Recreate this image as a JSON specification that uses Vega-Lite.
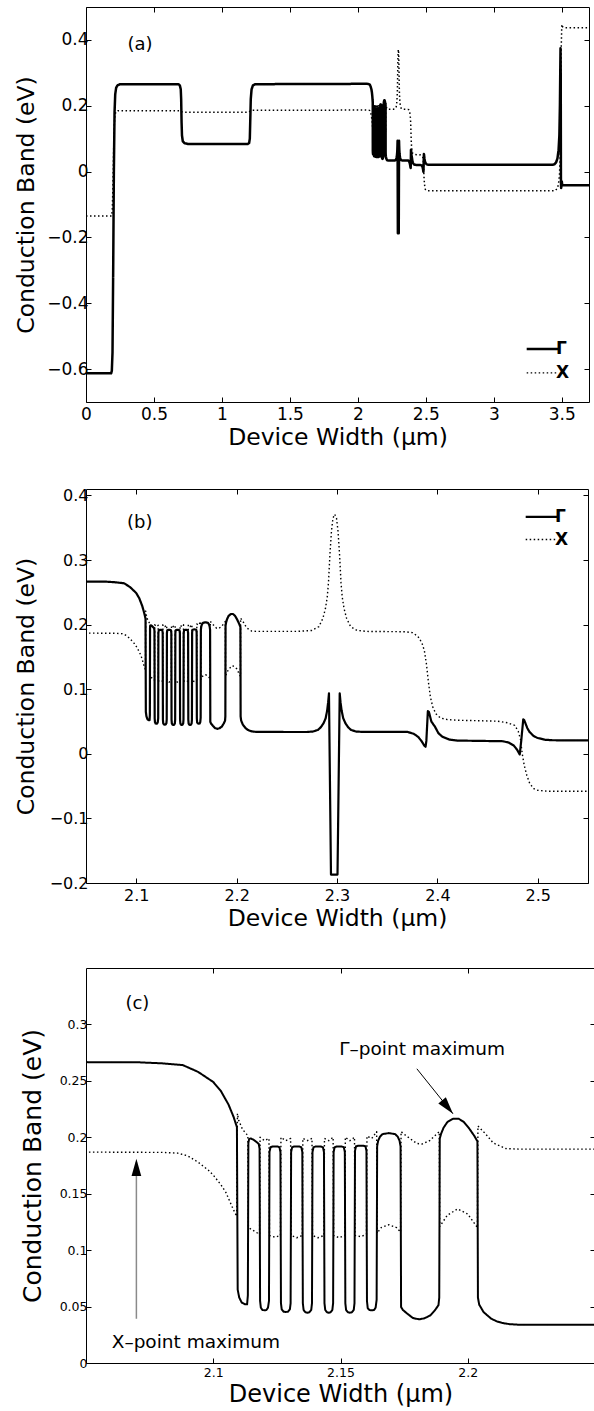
{
  "$schema": "https://vega.github.io/schema/vega-lite/v6.json",
  "padding": {"top": 6, "left": 14, "right": 0, "bottom": 0},
  "spacing": 37,
  "align": "none",
  "config": {
    "font": "DejaVu Sans",
    "view": {"stroke": "black", "strokeWidth": 1},
    "axis": {"domain": false, "grid": false, "ticks": true, "tickSize": -5, "tickColor": "black", "tickWidth": 1, "labelColor": "black", "titleColor": "black", "titleFontWeight": "normal", "labelFlush": false, "labelOverlap": false, "labelFont": "DejaVu Sans", "titleFont": "DejaVu Sans", "format": "~g"},
    "legend": {"title": null, "orient": "none", "padding": 0, "symbolType": "stroke", "symbolSize": 1000, "symbolStrokeColor": "black", "symbolStrokeWidth": 2, "labelFontSize": 17, "labelFont": "DejaVu Sans", "labelFontWeight": "bold", "labelColor": "black", "labelOffset": 5, "rowPadding": 4.6}
  },
  "resolve": {"scale": {"strokeDash": "independent"}, "legend": {"strokeDash": "independent"}},
  "datasets": {
    "band": [
      {"s":"Γ","x":0,"y":-0.613},{"s":"Γ","x":0.185,"y":-0.613},{"s":"Γ","x":0.19,"y":-0.605},{"s":"Γ","x":0.195,"y":-0.55},{"s":"Γ","x":0.2,"y":-0.3},{"s":"Γ","x":0.205,"y":0.0},{"s":"Γ","x":0.21,"y":0.18},{"s":"Γ","x":0.215,"y":0.235},{"s":"Γ","x":0.222,"y":0.255},{"s":"Γ","x":0.232,"y":0.262},{"s":"Γ","x":0.25,"y":0.2655},
      {"s":"Γ","x":0.68,"y":0.2655},{"s":"Γ","x":0.69,"y":0.262},{"s":"Γ","x":0.697,"y":0.25},{"s":"Γ","x":0.7,"y":0.22},{"s":"Γ","x":0.703,"y":0.15},{"s":"Γ","x":0.706,"y":0.11},{"s":"Γ","x":0.712,"y":0.092},{"s":"Γ","x":0.725,"y":0.086},{"s":"Γ","x":0.75,"y":0.084},
      {"s":"Γ","x":1.19,"y":0.084},{"s":"Γ","x":1.2,"y":0.087},{"s":"Γ","x":1.205,"y":0.1},{"s":"Γ","x":1.208,"y":0.15},{"s":"Γ","x":1.212,"y":0.22},{"s":"Γ","x":1.218,"y":0.25},{"s":"Γ","x":1.228,"y":0.262},{"s":"Γ","x":1.245,"y":0.2655},
      {"s":"Γ","x":2.05,"y":0.2666},{"s":"Γ","x":2.07,"y":0.2665},{"s":"Γ","x":2.08,"y":0.2655},{"s":"Γ","x":2.088,"y":0.264},{"s":"Γ","x":2.094,"y":0.258},{"s":"Γ","x":2.1,"y":0.249},{"s":"Γ","x":2.103,"y":0.241},{"s":"Γ","x":2.106,"y":0.229},{"s":"Γ","x":2.108,"y":0.218},{"s":"Γ","x":2.1093,"y":0.209},
      {"s":"Γ","x":2.1096,"y":0.065},{"s":"Γ","x":2.1102,"y":0.058},{"s":"Γ","x":2.1112,"y":0.0535},{"s":"Γ","x":2.1125,"y":0.052},{"s":"Γ","x":2.1133,"y":0.052},{"s":"Γ","x":2.1136,"y":0.06},
      {"s":"Γ","x":2.1138,"y":0.195},{"s":"Γ","x":2.1141,"y":0.1985},{"s":"Γ","x":2.1148,"y":0.199},{"s":"Γ","x":2.116,"y":0.1975},{"s":"Γ","x":2.1172,"y":0.1955},{"s":"Γ","x":2.1179,"y":0.194},{"s":"Γ","x":2.1182,"y":0.19},
      {"s":"Γ","x":2.1184,"y":0.055},{"s":"Γ","x":2.1187,"y":0.049},{"s":"Γ","x":2.1193,"y":0.047},{"s":"Γ","x":2.1201,"y":0.0467},{"s":"Γ","x":2.1209,"y":0.047},{"s":"Γ","x":2.1215,"y":0.049},{"s":"Γ","x":2.1219,"y":0.055},
      {"s":"Γ","x":2.1221,"y":0.187},{"s":"Γ","x":2.1225,"y":0.1912},{"s":"Γ","x":2.1233,"y":0.1918},{"s":"Γ","x":2.1243,"y":0.1919},{"s":"Γ","x":2.1253,"y":0.1918},{"s":"Γ","x":2.126,"y":0.1912},{"s":"Γ","x":2.1264,"y":0.187},
      {"s":"Γ","x":2.1266,"y":0.053},{"s":"Γ","x":2.1269,"y":0.0475},{"s":"Γ","x":2.1276,"y":0.0455},{"s":"Γ","x":2.1285,"y":0.0452},{"s":"Γ","x":2.1294,"y":0.0455},{"s":"Γ","x":2.1301,"y":0.0475},{"s":"Γ","x":2.1304,"y":0.053},
      {"s":"Γ","x":2.1306,"y":0.187},{"s":"Γ","x":2.131,"y":0.1912},{"s":"Γ","x":2.1318,"y":0.1918},{"s":"Γ","x":2.1328,"y":0.1919},{"s":"Γ","x":2.1338,"y":0.1918},{"s":"Γ","x":2.1346,"y":0.1912},{"s":"Γ","x":2.135,"y":0.187},
      {"s":"Γ","x":2.1352,"y":0.053},{"s":"Γ","x":2.1355,"y":0.047},{"s":"Γ","x":2.1362,"y":0.045},{"s":"Γ","x":2.137,"y":0.0446},{"s":"Γ","x":2.1378,"y":0.045},{"s":"Γ","x":2.1385,"y":0.047},{"s":"Γ","x":2.1388,"y":0.053},
      {"s":"Γ","x":2.139,"y":0.187},{"s":"Γ","x":2.1394,"y":0.1912},{"s":"Γ","x":2.1402,"y":0.1918},{"s":"Γ","x":2.1412,"y":0.1919},{"s":"Γ","x":2.1422,"y":0.1918},{"s":"Γ","x":2.1431,"y":0.1912},{"s":"Γ","x":2.1435,"y":0.187},
      {"s":"Γ","x":2.1437,"y":0.053},{"s":"Γ","x":2.144,"y":0.047},{"s":"Γ","x":2.1447,"y":0.045},{"s":"Γ","x":2.1454,"y":0.0446},{"s":"Γ","x":2.1461,"y":0.045},{"s":"Γ","x":2.1468,"y":0.047},{"s":"Γ","x":2.1471,"y":0.053},
      {"s":"Γ","x":2.1473,"y":0.187},{"s":"Γ","x":2.1477,"y":0.1912},{"s":"Γ","x":2.1485,"y":0.1918},{"s":"Γ","x":2.1495,"y":0.1919},{"s":"Γ","x":2.1505,"y":0.1918},{"s":"Γ","x":2.1513,"y":0.1912},{"s":"Γ","x":2.1517,"y":0.187},
      {"s":"Γ","x":2.1519,"y":0.053},{"s":"Γ","x":2.1522,"y":0.047},{"s":"Γ","x":2.1529,"y":0.045},{"s":"Γ","x":2.1537,"y":0.0446},{"s":"Γ","x":2.1545,"y":0.045},{"s":"Γ","x":2.1552,"y":0.047},{"s":"Γ","x":2.1555,"y":0.053},
      {"s":"Γ","x":2.1557,"y":0.188},{"s":"Γ","x":2.1561,"y":0.192},{"s":"Γ","x":2.1569,"y":0.1925},{"s":"Γ","x":2.158,"y":0.1926},{"s":"Γ","x":2.159,"y":0.1925},{"s":"Γ","x":2.1598,"y":0.192},{"s":"Γ","x":2.1602,"y":0.188},
      {"s":"Γ","x":2.1604,"y":0.055},{"s":"Γ","x":2.1607,"y":0.0485},{"s":"Γ","x":2.1614,"y":0.047},{"s":"Γ","x":2.1623,"y":0.0467},{"s":"Γ","x":2.1632,"y":0.047},{"s":"Γ","x":2.1638,"y":0.049},{"s":"Γ","x":2.1642,"y":0.056},
      {"s":"Γ","x":2.1644,"y":0.192},{"s":"Γ","x":2.1648,"y":0.197},{"s":"Γ","x":2.1655,"y":0.2005},{"s":"Γ","x":2.1665,"y":0.2028},{"s":"Γ","x":2.169,"y":0.2037},{"s":"Γ","x":2.1715,"y":0.2028},{"s":"Γ","x":2.1725,"y":0.2005},{"s":"Γ","x":2.1732,"y":0.197},{"s":"Γ","x":2.1736,"y":0.192},
      {"s":"Γ","x":2.1738,"y":0.0496},{"s":"Γ","x":2.1745,"y":0.047},{"s":"Γ","x":2.1763,"y":0.0436},{"s":"Γ","x":2.1785,"y":0.0398},{"s":"Γ","x":2.1809,"y":0.0387},{"s":"Γ","x":2.183,"y":0.0396},{"s":"Γ","x":2.1853,"y":0.0422},{"s":"Γ","x":2.1872,"y":0.047},{"s":"Γ","x":2.1885,"y":0.0513},{"s":"Γ","x":2.1888,"y":0.058},
      {"s":"Γ","x":2.189,"y":0.1987},{"s":"Γ","x":2.1895,"y":0.203},{"s":"Γ","x":2.1905,"y":0.2085},{"s":"Γ","x":2.192,"y":0.2135},{"s":"Γ","x":2.1942,"y":0.2164},{"s":"Γ","x":2.1964,"y":0.2165},{"s":"Γ","x":2.1985,"y":0.2135},{"s":"Γ","x":2.2005,"y":0.208},{"s":"Γ","x":2.2025,"y":0.2015},{"s":"Γ","x":2.2038,"y":0.1964},
      {"s":"Γ","x":2.204,"y":0.058},{"s":"Γ","x":2.2045,"y":0.0517},{"s":"Γ","x":2.2062,"y":0.0452},{"s":"Γ","x":2.2078,"y":0.042},{"s":"Γ","x":2.2092,"y":0.0393},{"s":"Γ","x":2.2115,"y":0.0368},{"s":"Γ","x":2.2137,"y":0.0354},{"s":"Γ","x":2.2165,"y":0.0344},{"s":"Γ","x":2.2196,"y":0.034},{"s":"Γ","x":2.25,"y":0.0338},
      {"s":"Γ","x":2.27,"y":0.0338},{"s":"Γ","x":2.276,"y":0.0345},{"s":"Γ","x":2.281,"y":0.037},{"s":"Γ","x":2.2838,"y":0.041},{"s":"Γ","x":2.2865,"y":0.047},{"s":"Γ","x":2.2887,"y":0.055},{"s":"Γ","x":2.2902,"y":0.067},{"s":"Γ","x":2.2912,"y":0.08},{"s":"Γ","x":2.292,"y":0.0935},
      {"s":"Γ","x":2.294,"y":-0.187},{"s":"Γ","x":2.3005,"y":-0.187},
      {"s":"Γ","x":2.3027,"y":0.0935},{"s":"Γ","x":2.3035,"y":0.08},{"s":"Γ","x":2.3046,"y":0.067},{"s":"Γ","x":2.3062,"y":0.055},{"s":"Γ","x":2.3085,"y":0.047},{"s":"Γ","x":2.3112,"y":0.041},{"s":"Γ","x":2.314,"y":0.037},{"s":"Γ","x":2.319,"y":0.0345},{"s":"Γ","x":2.325,"y":0.034},
      {"s":"Γ","x":2.37,"y":0.034},{"s":"Γ","x":2.3765,"y":0.031},{"s":"Γ","x":2.381,"y":0.026},{"s":"Γ","x":2.3845,"y":0.019},{"s":"Γ","x":2.387,"y":0.0125},{"s":"Γ","x":2.3882,"y":0.011},{"s":"Γ","x":2.389,"y":0.02},{"s":"Γ","x":2.3905,"y":0.066},{"s":"Γ","x":2.3915,"y":0.065},{"s":"Γ","x":2.394,"y":0.05},{"s":"Γ","x":2.3976,"y":0.0419},{"s":"Γ","x":2.401,"y":0.032},{"s":"Γ","x":2.405,"y":0.0264},{"s":"Γ","x":2.412,"y":0.022},{"s":"Γ","x":2.42,"y":0.0205},
      {"s":"Γ","x":2.465,"y":0.0195},{"s":"Γ","x":2.471,"y":0.0175},{"s":"Γ","x":2.476,"y":0.013},{"s":"Γ","x":2.4795,"y":0.006},{"s":"Γ","x":2.482,"y":-0.001},{"s":"Γ","x":2.4835,"y":0.02},{"s":"Γ","x":2.4855,"y":0.0532},{"s":"Γ","x":2.4865,"y":0.052},{"s":"Γ","x":2.4895,"y":0.04},{"s":"Γ","x":2.4917,"y":0.034},{"s":"Γ","x":2.4955,"y":0.028},{"s":"Γ","x":2.4993,"y":0.0248},{"s":"Γ","x":2.507,"y":0.0218},{"s":"Γ","x":2.515,"y":0.021},{"s":"Γ","x":2.55,"y":0.0207},
      {"s":"Γ","x":2.6,"y":0.0207},{"s":"Γ","x":3.43,"y":0.0207},{"s":"Γ","x":3.445,"y":0.022},{"s":"Γ","x":3.458,"y":0.028},{"s":"Γ","x":3.468,"y":0.04},{"s":"Γ","x":3.476,"y":0.065},{"s":"Γ","x":3.482,"y":0.11},{"s":"Γ","x":3.486,"y":0.2},{"s":"Γ","x":3.489,"y":0.32},{"s":"Γ","x":3.4905,"y":0.375},{"s":"Γ","x":3.492,"y":0.3},{"s":"Γ","x":3.4935,"y":-0.02},{"s":"Γ","x":3.495,"y":-0.05},{"s":"Γ","x":3.497,"y":-0.045},{"s":"Γ","x":3.5,"y":-0.03},{"s":"Γ","x":3.503,"y":-0.04},{"s":"Γ","x":3.51,"y":-0.0415},{"s":"Γ","x":3.7,"y":-0.0415},

      {"s":"X","x":0,"y":-0.135},{"s":"X","x":0.188,"y":-0.135},{"s":"X","x":0.193,"y":-0.12},{"s":"X","x":0.198,"y":-0.05},{"s":"X","x":0.203,"y":0.06},{"s":"X","x":0.208,"y":0.14},{"s":"X","x":0.213,"y":0.172},{"s":"X","x":0.22,"y":0.182},{"s":"X","x":0.235,"y":0.185},
      {"s":"X","x":0.69,"y":0.185},{"s":"X","x":0.703,"y":0.182},{"s":"X","x":0.715,"y":0.18},{"s":"X","x":1.19,"y":0.18},{"s":"X","x":1.205,"y":0.183},{"s":"X","x":1.22,"y":0.186},
      {"s":"X","x":2.05,"y":0.1869},{"s":"X","x":2.08,"y":0.1866},{"s":"X","x":2.086,"y":0.186},{"s":"X","x":2.09,"y":0.1835},{"s":"X","x":2.094,"y":0.178},{"s":"X","x":2.098,"y":0.171},{"s":"X","x":2.1,"y":0.1665},{"s":"X","x":2.103,"y":0.158},{"s":"X","x":2.105,"y":0.151},{"s":"X","x":2.1077,"y":0.137},{"s":"X","x":2.1092,"y":0.13},
      {"s":"X","x":2.1095,"y":0.221},{"s":"X","x":2.11,"y":0.215},{"s":"X","x":2.1115,"y":0.207},{"s":"X","x":2.113,"y":0.203},{"s":"X","x":2.1136,"y":0.2015},
      {"s":"X","x":2.1138,"y":0.12},{"s":"X","x":2.116,"y":0.117},{"s":"X","x":2.1182,"y":0.114},
      {"s":"X","x":2.1184,"y":0.2},{"s":"X","x":2.12015,"y":0.197},{"s":"X","x":2.1219,"y":0.199},
      {"s":"X","x":2.1221,"y":0.113},{"s":"X","x":2.1243,"y":0.1115},{"s":"X","x":2.1264,"y":0.113},
      {"s":"X","x":2.1266,"y":0.2},{"s":"X","x":2.1285,"y":0.197},{"s":"X","x":2.1304,"y":0.199},
      {"s":"X","x":2.1306,"y":0.113},{"s":"X","x":2.1328,"y":0.111},{"s":"X","x":2.135,"y":0.113},
      {"s":"X","x":2.1352,"y":0.199},{"s":"X","x":2.137,"y":0.197},{"s":"X","x":2.1388,"y":0.199},
      {"s":"X","x":2.139,"y":0.113},{"s":"X","x":2.1412,"y":0.111},{"s":"X","x":2.1435,"y":0.113},
      {"s":"X","x":2.1437,"y":0.199},{"s":"X","x":2.1454,"y":0.197},{"s":"X","x":2.1471,"y":0.2},
      {"s":"X","x":2.1473,"y":0.113},{"s":"X","x":2.1495,"y":0.111},{"s":"X","x":2.1517,"y":0.113},
      {"s":"X","x":2.1519,"y":0.2},{"s":"X","x":2.1537,"y":0.197},{"s":"X","x":2.1555,"y":0.2},
      {"s":"X","x":2.1557,"y":0.113},{"s":"X","x":2.158,"y":0.112},{"s":"X","x":2.1602,"y":0.114},
      {"s":"X","x":2.1604,"y":0.201},{"s":"X","x":2.1623,"y":0.199},{"s":"X","x":2.1642,"y":0.205},
      {"s":"X","x":2.1644,"y":0.115},{"s":"X","x":2.166,"y":0.12},{"s":"X","x":2.169,"y":0.1225},{"s":"X","x":2.172,"y":0.12},{"s":"X","x":2.1736,"y":0.116},
      {"s":"X","x":2.1738,"y":0.205},{"s":"X","x":2.176,"y":0.201},{"s":"X","x":2.18,"y":0.1945},{"s":"X","x":2.182,"y":0.194},{"s":"X","x":2.185,"y":0.197},{"s":"X","x":2.1888,"y":0.205},
      {"s":"X","x":2.189,"y":0.121},{"s":"X","x":2.192,"y":0.131},{"s":"X","x":2.196,"y":0.1365},{"s":"X","x":2.2,"y":0.132},{"s":"X","x":2.2038,"y":0.12},
      {"s":"X","x":2.204,"y":0.21},{"s":"X","x":2.207,"y":0.203},{"s":"X","x":2.21,"y":0.195},{"s":"X","x":2.215,"y":0.19},{"s":"X","x":2.22,"y":0.1895},
      {"s":"X","x":2.26,"y":0.1895},{"s":"X","x":2.275,"y":0.191},{"s":"X","x":2.282,"y":0.197},{"s":"X","x":2.286,"y":0.21},{"s":"X","x":2.2885,"y":0.225},{"s":"X","x":2.2903,"y":0.243},{"s":"X","x":2.2915,"y":0.265},{"s":"X","x":2.293,"y":0.31},{"s":"X","x":2.2945,"y":0.345},{"s":"X","x":2.296,"y":0.365},{"s":"X","x":2.2977,"y":0.371},{"s":"X","x":2.2995,"y":0.365},{"s":"X","x":2.301,"y":0.345},{"s":"X","x":2.3025,"y":0.31},{"s":"X","x":2.304,"y":0.265},{"s":"X","x":2.3052,"y":0.243},{"s":"X","x":2.307,"y":0.225},{"s":"X","x":2.3095,"y":0.21},{"s":"X","x":2.3135,"y":0.197},{"s":"X","x":2.32,"y":0.191},{"s":"X","x":2.33,"y":0.1895},
      {"s":"X","x":2.368,"y":0.189},{"s":"X","x":2.375,"y":0.1876},{"s":"X","x":2.3805,"y":0.182},{"s":"X","x":2.3845,"y":0.172},{"s":"X","x":2.387,"y":0.16},{"s":"X","x":2.389,"y":0.14},{"s":"X","x":2.391,"y":0.112},{"s":"X","x":2.393,"y":0.088},{"s":"X","x":2.3955,"y":0.072},{"s":"X","x":2.3985,"y":0.062},{"s":"X","x":2.403,"y":0.0555},{"s":"X","x":2.41,"y":0.053},{"s":"X","x":2.42,"y":0.052},
      {"s":"X","x":2.46,"y":0.0505},{"s":"X","x":2.47,"y":0.048},{"s":"X","x":2.477,"y":0.044},{"s":"X","x":2.4805,"y":0.035},{"s":"X","x":2.4828,"y":0.022},{"s":"X","x":2.4845,"y":0.0},{"s":"X","x":2.4865,"y":-0.018},{"s":"X","x":2.489,"y":-0.033},{"s":"X","x":2.492,"y":-0.046},{"s":"X","x":2.496,"y":-0.054},{"s":"X","x":2.5,"y":-0.0565},{"s":"X","x":2.51,"y":-0.058},
      {"s":"X","x":3.45,"y":-0.058},{"s":"X","x":3.465,"y":-0.052},{"s":"X","x":3.475,"y":-0.04},{"s":"X","x":3.483,"y":-0.01},{"s":"X","x":3.488,"y":0.05},{"s":"X","x":3.492,"y":0.2},{"s":"X","x":3.496,"y":0.38},{"s":"X","x":3.5,"y":0.447},{"s":"X","x":3.506,"y":0.44},{"s":"X","x":3.52,"y":0.437},{"s":"X","x":3.7,"y":0.437}
    ]
  },
  "vconcat": [
    {
      "width": 503, "height": 395,
      "layer": [
        {
          "data": {"name": "band"},
          "mark": {"type": "line", "clip": true, "color": "black", "strokeJoin": "round"},
          "encoding": {
            "x": {"field": "x", "type": "quantitative", "scale": {"domain": [0, 3.7], "nice": false, "zero": false},
                  "axis": {"orient": "bottom", "values": [0, 0.5, 1, 1.5, 2, 2.5, 3, 3.5], "labelFontSize": 17, "labelPadding": 9, "title": "Device Width (μm)", "titleFontSize": 23.5, "titlePadding": 3}},
            "y": {"field": "y", "type": "quantitative", "scale": {"domain": [-0.7, 0.5], "nice": false, "zero": false},
                  "axis": {"orient": "left", "values": [-0.6, -0.4, -0.2, 0, 0.2, 0.4], "labelFontSize": 17, "labelPadding": 3, "title": "Conduction Band (eV)", "titleFontSize": 23.5, "titlePadding": 8}},
            "strokeDash": {"field": "s", "type": "nominal", "scale": {"domain": ["Γ", "X"], "range": [[1, 0], [1.5, 2.5]]},
                  "legend": {"legendX": 448, "legendY": 333.4, "rowPadding": 6, "encode": {"symbols": {"update": {"strokeWidth": {"signal": "datum.value === 'Γ' ? 2.5 : 1.3"}}}}}},
            "strokeWidth": {"condition": {"test": "datum.s === 'Γ'", "value": 2.5}, "value": 1.5}
          }
        },
        {
          "data": {"values": [{"x": 0.397, "y": 0.385, "t": "(a)"}]},
          "mark": {"type": "text", "fontSize": 18, "color": "black", "align": "center", "baseline": "middle"},
          "encoding": {
            "x": {"field": "x", "type": "quantitative", "scale": {"domain": [0, 3.7], "nice": false, "zero": false},
                  "axis": {"orient": "top", "values": [0, 0.5, 1, 1.5, 2, 2.5, 3, 3.5], "labels": false, "title": null}},
            "y": {"field": "y", "type": "quantitative", "scale": {"domain": [-0.7, 0.5], "nice": false, "zero": false},
                  "axis": {"orient": "right", "values": [-0.6, -0.4, -0.2, 0, 0.2, 0.4], "labels": false, "title": null}},
            "text": {"field": "t"}
          }
        }
      ],
      "resolve": {"axis": {"x": "independent", "y": "independent"}}
    },
    {
      "width": 502, "height": 394,
      "layer": [
        {
          "data": {"name": "band"},
          "mark": {"type": "line", "clip": true, "color": "black", "strokeJoin": "round"},
          "encoding": {
            "x": {"field": "x", "type": "quantitative", "scale": {"domain": [2.05, 2.55], "nice": false, "zero": false},
                  "axis": {"orient": "bottom", "values": [2.1, 2.2, 2.3, 2.4, 2.5], "labelFontSize": 16, "labelPadding": 9, "title": "Device Width (μm)", "titleFontSize": 23.5, "titlePadding": 3}},
            "y": {"field": "y", "type": "quantitative", "scale": {"domain": [-0.2, 0.41], "nice": false, "zero": false},
                  "axis": {"orient": "left", "values": [-0.2, -0.1, 0, 0.1, 0.2, 0.3, 0.4], "labelFontSize": 16, "labelPadding": 3, "title": "Conduction Band (eV)", "titleFontSize": 23.5, "titlePadding": 10.5}},
            "strokeDash": {"field": "s", "type": "nominal", "scale": {"domain": ["Γ", "X"], "range": [[1, 0], [1.5, 2.5]]},
                  "legend": {"legendX": 447, "legendY": 19.4, "encode": {"symbols": {"update": {"strokeWidth": {"signal": "datum.value === 'Γ' ? 2.3 : 1.3"}}}}}},
            "strokeWidth": {"condition": {"test": "datum.s === 'Γ'", "value": 2.2}, "value": 1.4}
          }
        },
        {
          "data": {"values": [{"x": 2.1036, "y": 0.3566, "t": "(b)"}]},
          "mark": {"type": "text", "fontSize": 18, "color": "black", "align": "center", "baseline": "middle"},
          "encoding": {
            "x": {"field": "x", "type": "quantitative", "scale": {"domain": [2.05, 2.55], "nice": false, "zero": false},
                  "axis": {"orient": "top", "values": [2.1, 2.2, 2.3, 2.4, 2.5], "labels": false, "title": null}},
            "y": {"field": "y", "type": "quantitative", "scale": {"domain": [-0.2, 0.41], "nice": false, "zero": false},
                  "axis": {"orient": "right", "values": [-0.2, -0.1, 0, 0.1, 0.2, 0.3, 0.4], "labels": false, "title": null}},
            "text": {"field": "t"}
          }
        }
      ],
      "resolve": {"axis": {"x": "independent", "y": "independent"}}
    },
    {
      "width": 509, "height": 395,
      "layer": [
        {
          "data": {"name": "band"},
          "mark": {"type": "line", "clip": true, "color": "black", "strokeJoin": "round"},
          "encoding": {
            "x": {"field": "x", "type": "quantitative", "scale": {"domain": [2.05, 2.25], "nice": false, "zero": false},
                  "axis": {"orient": "bottom", "values": [2.1, 2.15, 2.2], "labelFontSize": 12.5, "labelPadding": 8.5, "title": "Device Width (μm)", "titleFontSize": 24, "titlePadding": 3}},
            "y": {"field": "y", "type": "quantitative", "scale": {"domain": [0, 0.35], "nice": false, "zero": false},
                  "axis": {"orient": "left", "values": [0, 0.05, 0.1, 0.15, 0.2, 0.25, 0.3], "labelFontSize": 12.5, "labelPadding": 4, "title": "Conduction Band (eV)", "titleFontSize": 25, "titlePadding": 13.5}},
            "strokeDash": {"field": "s", "type": "nominal", "scale": {"domain": ["Γ", "X"], "range": [[1, 0], [1.5, 2.5]]}, "legend": null},
            "strokeWidth": {"condition": {"test": "datum.s === 'Γ'", "value": 2}, "value": 1.4}
          }
        },
        {
          "data": {"values": [{"x": 2.0702, "y": 0.318, "t": "(c)"}]},
          "mark": {"type": "text", "fontSize": 18, "color": "black", "align": "center", "baseline": "middle"},
          "encoding": {
            "x": {"field": "x", "type": "quantitative", "scale": {"domain": [2.05, 2.25], "nice": false, "zero": false},
                  "axis": {"orient": "top", "values": [2.1, 2.15, 2.2], "labels": false, "title": null}},
            "y": {"field": "y", "type": "quantitative", "scale": {"domain": [0, 0.35], "nice": false, "zero": false},
                  "axis": {"orient": "right", "values": [0, 0.05, 0.1, 0.15, 0.2, 0.25, 0.3], "labels": false, "title": null}},
            "text": {"field": "t"}
          }
        },
        {
          "data": {"values": [{"x": 2.1495, "y": 0.273, "t": "Γ–point maximum"}, {"x": 2.0601, "y": 0.0133, "t": "X–point maximum"}]},
          "mark": {"type": "text", "fontSize": 18.5, "color": "black", "align": "left", "baseline": "alphabetic"},
          "encoding": {
            "x": {"field": "x", "type": "quantitative", "axis": null},
            "y": {"field": "y", "type": "quantitative", "axis": null},
            "text": {"field": "t"}
          }
        },
        {
          "data": {"values": [{"x": 2.18, "y": 0.2607, "x2": 2.1942, "y2": 0.2208}]},
          "mark": {"type": "rule", "color": "black", "strokeWidth": 1},
          "encoding": {
            "x": {"field": "x", "type": "quantitative", "axis": null},
            "y": {"field": "y", "type": "quantitative", "axis": null},
            "x2": {"field": "x2"},
            "y2": {"field": "y2"}
          }
        },
        {
          "data": {"values": [{"x": 2.0698, "y": 0.0392, "x2": 2.0698, "y2": 0.178}]},
          "mark": {"type": "rule", "color": "#8a8a8a", "strokeWidth": 1.5},
          "encoding": {
            "x": {"field": "x", "type": "quantitative", "axis": null},
            "y": {"field": "y", "type": "quantitative", "axis": null},
            "x2": {"field": "x2"},
            "y2": {"field": "y2"}
          }
        },
        {
          "data": {"values": [{"x": 2.1942, "y": 0.2208}]},
          "mark": {"type": "point", "shape": "M0,0L0.28,1L-0.28,1Z", "filled": true, "color": "black", "opacity": 1, "size": 1200, "angle": 141, "strokeWidth": 0},
          "encoding": {
            "x": {"field": "x", "type": "quantitative", "axis": null},
            "y": {"field": "y", "type": "quantitative", "axis": null}
          }
        },
        {
          "data": {"values": [{"x": 2.0698, "y": 0.181}]},
          "mark": {"type": "point", "shape": "M0,0L0.28,1L-0.28,1Z", "filled": true, "color": "black", "opacity": 1, "size": 1200, "angle": 0, "strokeWidth": 0},
          "encoding": {
            "x": {"field": "x", "type": "quantitative", "axis": null},
            "y": {"field": "y", "type": "quantitative", "axis": null}
          }
        }
      ],
      "resolve": {"axis": {"x": "independent", "y": "independent"}}
    }
  ]
}
